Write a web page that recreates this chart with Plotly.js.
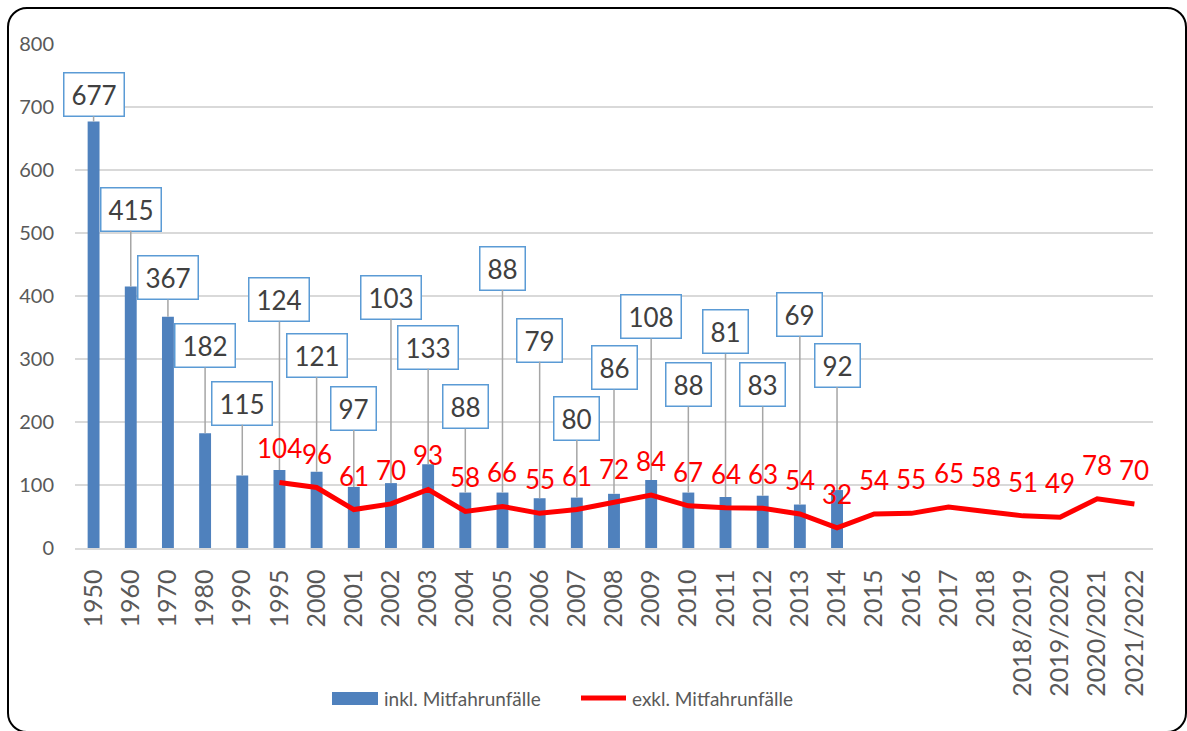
<!DOCTYPE html>
<html>
<head>
<meta charset="utf-8">
<script src="https://cdn.plot.ly/plotly-3.0.1.min.js"></script>
<style>
  html, body { margin: 0; padding: 0; background: #fff; }
  #wrap { position: relative; width: 1187px; height: 731px; overflow: hidden; }
  #chart { position: absolute; left: 0; top: 0; width: 1187px; height: 731px; }
  #frame { position: absolute; left: 7px; top: 7px; width: 1176px; height: 722px;
           border: 2px solid #000; border-radius: 20px; pointer-events: none; }
</style>
</head>
<body>
<div id="wrap">
  <div id="chart"></div>
  <div id="frame"></div>
</div>
<script>
// ---- data ----
const categories = ['1950','1960','1970','1980','1990','1995','2000','2001','2002','2003','2004',
  '2005','2006','2007','2008','2009','2010','2011','2012','2013','2014','2015','2016','2017','2018',
  '2018/2019','2019/2020','2020/2021','2021/2022'];

const inklYears = categories.slice(0, 21);
const inklValues = [677,415,367,182,115,124,121,97,103,133,88,88,79,80,86,108,88,81,83,69,92];

const exklYears = categories.slice(5);
const exklValues = [104,96,61,70,93,58,66,55,61,72,84,67,64,63,54,32,54,55,65,58,51,49,78,70];

const seriesNames = ['inkl. Mitfahrunfälle', 'exkl. Mitfahrunfälle'];

// callout placement (layout config, in axis units) for the bar labels
const calloutLevels = [720,538,429,321,230,394,306,222,398,319,224,444,330,206,286,367,259,343,259,371,290];

// ---- styling ----
const BAR = '#4F81BD', LINE = '#FF0000', GRID = '#D9D9D9', TXT = '#595959';
const FONT = 'Lato, "Open Sans", sans-serif';

const traces = [
  { type: 'bar', x: inklYears, y: inklValues, name: seriesNames[0],
    marker: { color: BAR }, width: 0.32, hoverinfo: 'x+y' },
  { type: 'scatter', mode: 'lines', x: exklYears, y: exklValues, name: seriesNames[1],
    line: { color: LINE, width: 5 }, hoverinfo: 'x+y' }
];

// category index (annotations on a category axis are placed by index)
const catIdx = c => categories.indexOf(c);

const annotations = [];
inklYears.forEach((c, i) => {
  const txt = String(inklValues[i]);
  annotations.push({
    x: catIdx(c), y: inklValues[i], xref: 'x', yref: 'y',
    ax: catIdx(c), ay: calloutLevels[i], axref: 'x', ayref: 'y',
    text: txt, showarrow: true, arrowhead: 0, arrowwidth: 1.5, arrowcolor: '#A6A6A6',
    standoff: 0, startstandoff: 0,
    font: { family: FONT, size: 26, color: '#404040' },
    bgcolor: '#FFFFFF', bordercolor: '#5B9BD5', borderwidth: 1.5, borderpad: 1,
    width: txt.length >= 3 ? 57 : 42, height: 40, align: 'center', valign: 'middle'
  });
});
exklYears.forEach((c, i) => {
  annotations.push({
    x: catIdx(c), y: exklValues[i], xref: 'x', yref: 'y', text: String(exklValues[i]),
    showarrow: false, yshift: 34, xanchor: 'center', yanchor: 'middle',
    font: { family: FONT, size: 26, color: LINE }
  });
});

// custom legend (pixel -> paper helpers)
const PL = 75, PR = 1153, PT = 44, PB = 548;
const px = v => (v - PL) / (PR - PL);
const py = v => (PB - v) / (PB - PT);
const legY = 698;
const shapes = [
  { type: 'rect', xref: 'paper', yref: 'paper', x0: px(332), x1: px(378), y0: py(705), y1: py(692),
    fillcolor: BAR, line: { width: 0 } },
  { type: 'line', xref: 'paper', yref: 'paper', x0: px(581), x1: px(626), y0: py(legY), y1: py(legY),
    line: { color: LINE, width: 5 } }
];
annotations.push(
  { xref: 'paper', yref: 'paper', x: px(382), y: py(legY), xanchor: 'left', yanchor: 'middle',
    text: seriesNames[0], showarrow: false, font: { family: FONT, size: 19, color: TXT } },
  { xref: 'paper', yref: 'paper', x: px(630), y: py(legY), xanchor: 'left', yanchor: 'middle',
    text: seriesNames[1], showarrow: false, font: { family: FONT, size: 19, color: TXT } }
);

const layout = {
  width: 1187, height: 731,
  margin: { l: PL, r: 1187 - PR, t: PT, b: 731 - PB },
  paper_bgcolor: 'rgba(0,0,0,0)', plot_bgcolor: 'rgba(0,0,0,0)',
  showlegend: false,
  font: { family: FONT, color: TXT },
  xaxis: {
    type: 'category', categoryorder: 'array', categoryarray: categories,
    range: [-0.5, categories.length - 0.5],
    tickangle: -90, tickfont: { family: FONT, size: 25, color: TXT },
    showgrid: false, showline: true, linecolor: GRID, linewidth: 1.5,
    ticks: '', ticklabelstandoff: 10, fixedrange: true
  },
  yaxis: {
    range: [0, 800], dtick: 100, tick0: 0,
    tickfont: { family: FONT, size: 20, color: TXT },
    showgrid: true, gridcolor: GRID, gridwidth: 1.5,
    zeroline: false, showline: false, ticks: '', ticklabelstandoff: 20, fixedrange: true
  },
  bargap: 0.68,
  annotations: annotations,
  shapes: shapes
};

Plotly.newPlot('chart', traces, layout, { displayModeBar: false, staticPlot: true });
</script>
</body>
</html>
